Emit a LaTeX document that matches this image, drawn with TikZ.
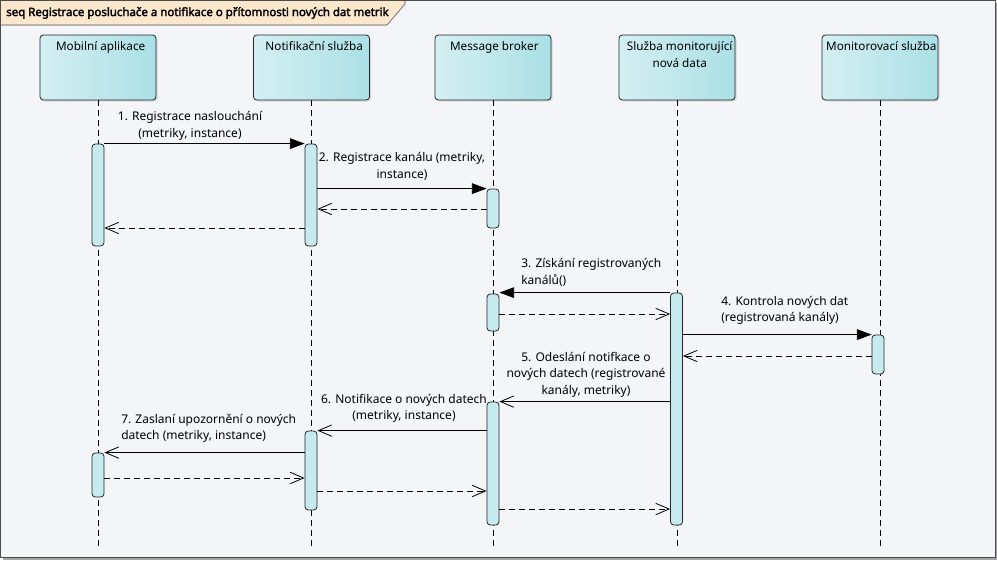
\documentclass[tikz,border=0pt]{standalone}
\usepackage{fontspec}
\setmainfont{Noto Sans}[AutoFakeBold=2.5]
\usetikzlibrary{arrows.meta,positioning,fit,shadows}
\definecolor{headleft}{RGB}{212,239,242}
\definecolor{headright}{RGB}{170,224,230}
\definecolor{actfill}{RGB}{198,235,238}
\definecolor{tabfill}{RGB}{250,231,204}
\definecolor{framebg}{RGB}{243,245,249}
\tikzset{
  head/.style={draw=black!85, line width=0.6pt, rounded corners=2.5pt,
    left color=headleft, right color=headright,
    minimum width=87pt, minimum height=48.75pt,
    drop shadow={shadow xshift=1.2pt, shadow yshift=-1.2pt, opacity=0.25}},
  headtext/.style={anchor=north, align=center, inner sep=0pt,
    font=\fontsize{8.8}{12.4}\selectfont},
  act/.style={draw=black!85, line width=0.6pt, fill=actfill,
    rounded corners=2.5pt, minimum width=9pt, inner sep=0pt},
  lifeline/.style={line width=0.6pt, dash pattern=on 4.5pt off 3pt},
  sync/.style={line width=0.6pt, -{Triangle[length=11pt,width=8pt]}},
  async/.style={line width=0.6pt, -{Straight Barb[length=10pt,width=8.5pt]}},
  reply/.style={async, dash pattern=on 4.5pt off 3pt},
  msgtext/.style={inner sep=0pt, font=\fontsize{9}{12.4}\selectfont},
}
\begin{document}
\begin{tikzpicture}[x=0.75pt, y=-0.75pt]
  \useasboundingbox (0,0) rectangle (997,562);
  % frame and title tab
  \fill[black!35] (3,3) rectangle (997,560);
  \draw[black!70, fill=framebg] (0.5,0.5) rectangle (995,557);
  \draw[black!70, fill=tabfill] (0.5,0.5) -- (405,0.5) -- (405,4) -- (387,25) -- (0.5,25) -- cycle;
  \node[anchor=west, inner sep=0pt, font=\bfseries\fontsize{8.6}{11}\selectfont] (title) at (6,13)
    {seq Registrace posluchače a notifikace o přítomnosti nových dat metrik};
  \coordinate (end) at (0,548);

  % lifeline heads
  \node[head] (mob) at (98,67.5) {};
  \node[head] (notif) at (311.5,67.5) {};
  \node[head] (broker) at (493,67.5) {};
  \node[head] (monnew) at (677,67.5) {};
  \node[head] (mon) at (880,67.5) {};
  \node[headtext] (mobt) at ([xshift=2pt,yshift=-5pt]mob.north) {Mobilní aplikace};
  \node[headtext] (notift) at ([xshift=2pt,yshift=-5pt]notif.north) {Notifikační služba};
  \node[headtext] (brokert) at ([xshift=1pt,yshift=-5pt]broker.north) {Message broker};
  \node[headtext] (monnewt) at ([xshift=2pt,yshift=-5pt]monnew.north) {Služba monitorující\\nová data};
  \node[headtext] (mont) at ([xshift=1pt,yshift=-5pt]mon.north) {Monitorovací služba};

  % lifelines
  \foreach \h in {mob,notif,broker,monnew,mon}
    \draw[lifeline] (\h.south) -- (\h.south |- end);

  % activations
  \node[act, fit={(98,144) (98,246)}] (ma1) {};
  \node[act, fit={(98,453) (98,497)}] (ma2) {};
  \node[act, fit={(311,144) (311,246)}] (mn1) {};
  \node[act, fit={(311,431) (311,510)}] (mn2) {};
  \node[act, fit={(493,189) (493,228)}] (mb1) {};
  \node[act, fit={(493,294) (493,331)}] (mb2) {};
  \node[act, fit={(493,402) (493,525)}] (mb3) {};
  \node[act, fit={(676.5,293) (676.5,525)}] (ms) {};
  \node[act, fit={(878,335) (878,374)}] (mm) {};

  % messages
  \draw[sync] (ma1.north east) -- (mn1.north west);
  \draw[sync] (mn1.east |- mb1.north) -- (mb1.north west);
  \draw[reply] (mb1.west |- 0,209) -- (mn1.east |- 0,209);
  \draw[reply] (mn1.west |- 0,228) -- (ma1.east |- 0,228);
  \draw[sync] (ms.north west) -- (mb2.east |- ms.north);
  \draw[reply] (mb2.east |- 0,314) -- (ms.west |- 0,314);
  \draw[sync] (ms.east |- mm.north) -- (mm.north west);
  \draw[reply] (mm.west |- 0,356) -- (ms.east |- 0,356);
  \draw[async] (ms.west |- mb3.north) -- (mb3.north east);
  \draw[async] (mb3.west |- mn2.north) -- (mn2.north east);
  \draw[async] (mn2.west |- ma2.north) -- (ma2.north east);
  \draw[reply] (ma2.east |- 0,478) -- (mn2.west |- 0,478);
  \draw[reply] (mn2.east |- 0,491) -- (mb3.west |- 0,491);
  \draw[reply] (mb3.east |- 0,509) -- (ms.west |- 0,509);

  % message labels
  \node[msgtext, align=center] (l1) at (190,126) {1. Registrace naslouchání\\(metriky, instance)};
  \node[msgtext, align=center] (l2) at (402,166.5) {2. Registrace kanálu (metriky,\\instance)};
  \node[msgtext, align=left, anchor=west] (l3) at (521,272.5) {3. Získání registrovaných\\kanálů()};
  \node[msgtext, align=left, anchor=west] (l4) at (721,310.5) {4. Kontrola nových dat\\(registrovaná kanály)};
  \node[msgtext, align=center] (l5) at (586,374.5) {5. Odeslání notifkace o\\nových datech (registrované\\kanály, metriky)};
  \node[msgtext, align=center] (l6) at (404,408.5) {6. Notifikace o nových datech\\(metriky, instance)};
  \node[msgtext, align=left, anchor=west] (l7) at (121,428.5) {7. Zaslaní upozornění o nových\\datech (metriky, instance)};
\end{tikzpicture}
\end{document}
